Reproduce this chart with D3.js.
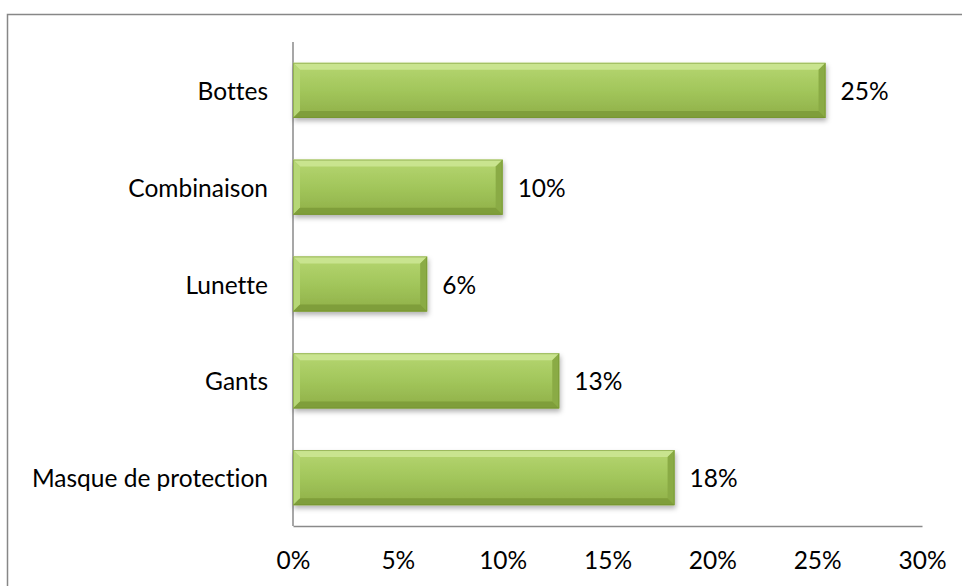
<!DOCTYPE html>
<html>
<head>
<meta charset="utf-8">
<script src="https://cdn.jsdelivr.net/npm/d3@7"></script>
<style>
  html, body { margin: 0; padding: 0; background: #fff; }
  svg { display: block; }
  text { font-family: Lato, "Open Sans", sans-serif; fill: #000; font-variant-ligatures: none; font-feature-settings: "liga" 0, "clig" 0; }
</style>
</head>
<body>
<svg id="chart" width="962" height="586"></svg>
<script>
// Equipment categories, top to bottom
const categories = ["Bottes", "Combinaison", "Lunette", "Gants", "Masque de protection"];
// Share of respondents per item
const shares = [0.254, 0.100, 0.064, 0.127, 0.182];
// Horizontal axis ticks
const ticks = [0, 0.05, 0.10, 0.15, 0.20, 0.25, 0.30];

const svg = d3.select("#chart");
const plot = { left: 293, right: 922, top: 42, bottom: 526 };
const fontSize = "24.5px";

const x = d3.scaleLinear().domain([0, 0.30]).range([plot.left, plot.right]);
const y = d3.scaleBand().domain(categories).range([plot.top, plot.bottom])
  .paddingInner(0.43).paddingOuter(0.215);
const pct = d3.format(".0%");

// Outer chart frame
svg.append("rect")
  .attr("x", 7.5).attr("y", 14.5)
  .attr("width", 980).attr("height", 600)
  .attr("fill", "none").attr("stroke", "#878787").attr("stroke-width", 1.5);

// Gradients and shadow for the bevelled bars
const defs = svg.append("defs");
const body = defs.append("linearGradient").attr("id", "barBody")
  .attr("x1", 0).attr("y1", 0).attr("x2", 0).attr("y2", 1);
body.append("stop").attr("offset", "0%").attr("stop-color", "#b6d671");
body.append("stop").attr("offset", "50%").attr("stop-color", "#a2c65b");
body.append("stop").attr("offset", "100%").attr("stop-color", "#8faf48");

const shadow = defs.append("filter").attr("id", "barShadow")
  .attr("x", "-5%").attr("y", "-20%").attr("width", "115%").attr("height", "160%");
shadow.append("feDropShadow").attr("dx", 1).attr("dy", 3)
  .attr("stdDeviation", 2.5).attr("flood-color", "#000").attr("flood-opacity", 0.3);

// Axes
const axisColor = "#8a8a8a";
svg.append("line")
  .attr("x1", x(0)).attr("x2", x(0))
  .attr("y1", plot.top).attr("y2", plot.bottom)
  .attr("stroke", axisColor).attr("stroke-width", 1.5);

const xAxis = d3.axisBottom(x).tickValues(ticks).tickFormat(pct).tickSize(0).tickPadding(26);
const gx = svg.append("g").attr("transform", `translate(0,${plot.bottom})`).call(xAxis);
gx.select(".domain").attr("stroke", axisColor).attr("stroke-width", 1.5);
gx.selectAll("text").style("font-size", fontSize).style("font-family", "Lato, 'Open Sans', sans-serif")
  .style("font-variant-ligatures", "none");

// Category labels
svg.append("g").selectAll("text").data(categories).join("text")
  .attr("x", plot.left - 25)
  .attr("y", d => y(d) + y.bandwidth() / 2)
  .attr("text-anchor", "end")
  .attr("dominant-baseline", "central")
  .style("font-size", fontSize)
  .text(d => d);

// Bars with bevelled edges
const rows = categories.map((c, i) => ({ cat: c, v: shares[i] }));
const bars = svg.append("g").selectAll("g").data(rows).join("g")
  .attr("filter", "url(#barShadow)");

bars.append("rect")
  .attr("x", x(0))
  .attr("y", d => y(d.cat))
  .attr("width", d => x(d.v) - x(0))
  .attr("height", y.bandwidth())
  .attr("fill", "url(#barBody)");

const bevel = 7;
function edge(d, side) {
  const x0 = x(0), x1 = x(d.v), y0 = y(d.cat), y1 = y0 + y.bandwidth();
  const b = Math.min(bevel, (x1 - x0) / 2);
  const pts = {
    top:    [[x0, y0], [x1, y0], [x1 - b, y0 + b], [x0 + b, y0 + b]],
    bottom: [[x0, y1], [x1, y1], [x1 - b, y1 - b], [x0 + b, y1 - b]],
    left:   [[x0, y0], [x0 + b, y0 + b], [x0 + b, y1 - b], [x0, y1]],
    right:  [[x1, y0], [x1 - b, y0 + b], [x1 - b, y1 - b], [x1, y1]]
  }[side];
  return pts.map(p => p.join(",")).join(" ");
}
const edgeFill = { top: "#c9e48f", left: "#b6d776", right: "#8aab44", bottom: "#7f9e3a" };
["top", "left", "right", "bottom"].forEach(side => {
  bars.append("polygon")
    .attr("points", d => edge(d, side))
    .attr("fill", edgeFill[side]);
});
bars.append("rect")
  .attr("x", x(0) + 0.5)
  .attr("y", d => y(d.cat) + 0.5)
  .attr("width", d => x(d.v) - x(0) - 1)
  .attr("height", y.bandwidth() - 1)
  .attr("fill", "none").attr("stroke", "#6f8f2c").attr("stroke-width", 1).attr("stroke-opacity", 0.5);

// Value labels
svg.append("g").selectAll("text").data(rows).join("text")
  .attr("x", d => x(d.v) + 15)
  .attr("y", d => y(d.cat) + y.bandwidth() / 2)
  .attr("dominant-baseline", "central")
  .style("font-size", fontSize)
  .text(d => pct(d.v));
</script>
</body>
</html>
